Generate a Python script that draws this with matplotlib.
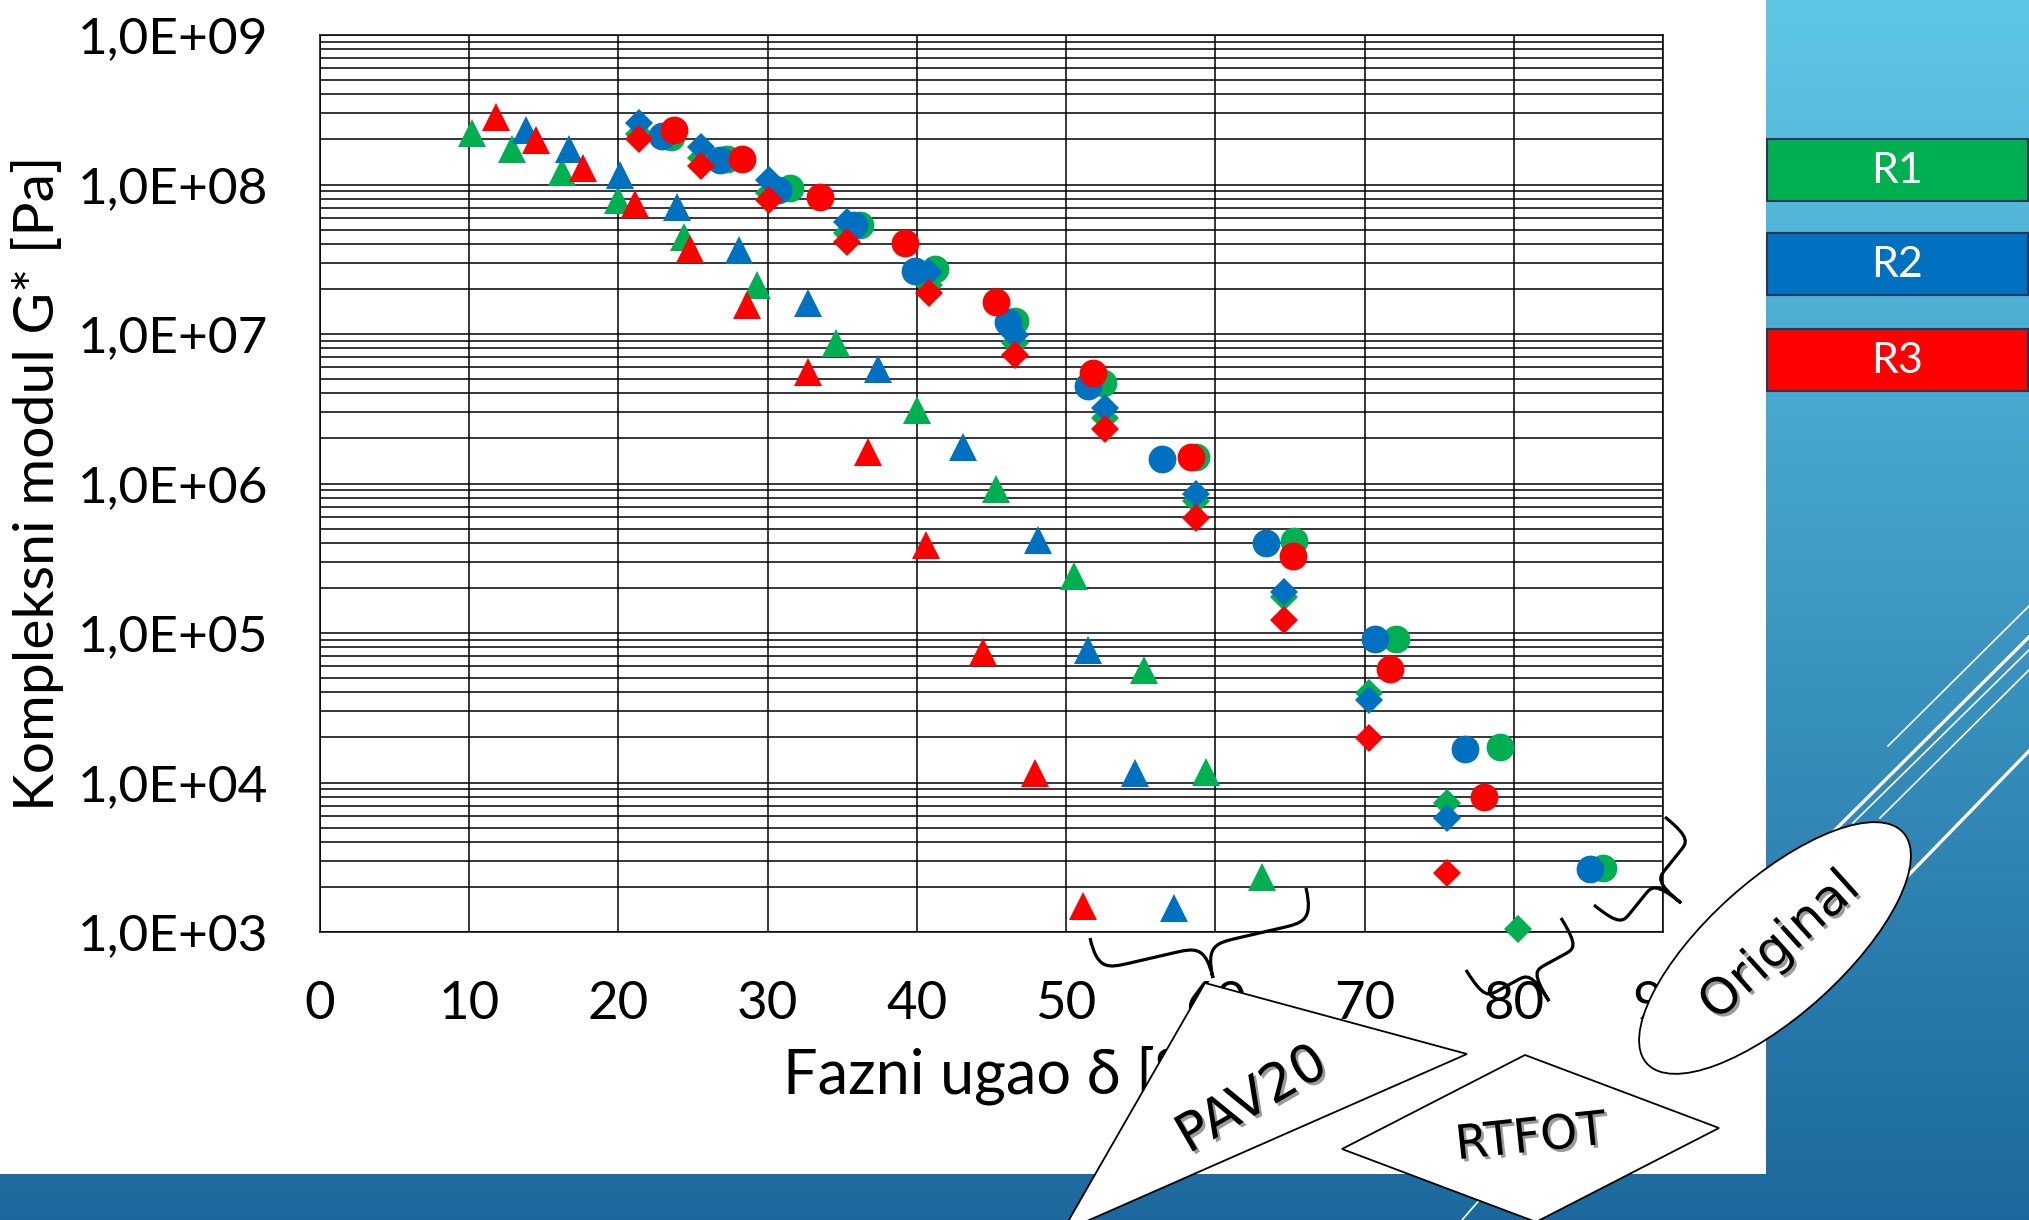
import numpy as np
import matplotlib
matplotlib.use("Agg")
from matplotlib import pyplot as plt
from matplotlib import font_manager
from matplotlib.patches import Rectangle, Ellipse, Polygon, PathPatch
from matplotlib.path import Path
from matplotlib.ticker import LogLocator, NullFormatter
import matplotlib.patheffects as pe

W, H = 2029, 1220

# ---- data: phase angle delta [deg] vs complex modulus G* [Pa] ----
# Original (circles)
orig_r1_delta = [23.5, 27.3, 31.5, 36.2, 41.2, 46.6, 52.5, 58.7, 65.3, 72.1, 79.1, 86.0]
orig_r1_g = [2.09e8, 1.48e8, 9.44e7, 5.37e7, 2.72e7, 1.23e7, 4.68e6, 1.51e6, 4.12e5, 9.18e4, 1.72e4, 2.67e3]
orig_r2_delta = [22.9, 26.8, 30.7, 35.8, 39.9, 46.1, 51.5, 56.4, 63.4, 70.7, 76.7, 85.1]
orig_r2_g = [2.11e8, 1.46e8, 9.18e7, 5.36e7, 2.64e7, 1.21e7, 4.51e6, 1.45e6, 3.98e5, 9.08e4, 1.67e4, 2.62e3]
orig_r3_delta = [23.7, 28.3, 33.5, 39.2, 45.3, 51.8, 58.4, 65.2, 71.7, 78.0]
orig_r3_g = [2.32e8, 1.48e8, 8.28e7, 4.05e7, 1.64e7, 5.51e6, 1.50e6, 3.27e5, 5.77e4, 8.04e3]

# RTFOT (diamonds)
rtfot_r1_delta = [21.4, 25.5, 30.1, 35.3, 40.8, 46.6, 52.6, 58.7, 64.6, 70.3, 75.5, 80.3]
rtfot_r1_g = [2.19e8, 1.50e8, 8.71e7, 4.72e7, 2.14e7, 8.67e6, 2.73e6, 7.59e5, 1.74e5, 3.94e4, 7.26e3, 1.05e3]
rtfot_r2_delta = [21.4, 25.5, 30.1, 35.3, 40.8, 46.6, 52.6, 58.7, 64.6, 70.3, 75.5]
rtfot_r2_g = [2.59e8, 1.77e8, 1.07e8, 5.64e7, 2.61e7, 9.84e6, 3.18e6, 8.55e5, 1.88e5, 3.56e4, 5.77e3]
rtfot_r3_delta = [21.4, 25.5, 30.1, 35.3, 40.8, 46.6, 52.6, 58.7, 64.6, 70.3, 75.5]
rtfot_r3_g = [2.00e8, 1.32e8, 7.87e7, 4.14e7, 1.89e7, 7.24e6, 2.30e6, 5.92e5, 1.22e5, 1.98e4, 2.49e3]

# PAV20 (triangles)
pav_r1_delta = [10.2, 12.9, 16.2, 20.0, 24.4, 29.3, 34.6, 40.0, 45.3, 50.5, 55.2, 59.4, 63.1]
pav_r1_g = [2.20e8, 1.72e8, 1.22e8, 7.87e7, 4.48e7, 2.13e7, 8.75e6, 3.08e6, 9.18e5, 2.39e5, 5.66e4, 1.18e4, 2.34e3]
pav_r2_delta = [13.8, 16.7, 20.1, 23.9, 28.1, 32.7, 37.4, 43.1, 48.1, 51.5, 54.6, 57.2]
pav_r2_g = [2.32e8, 1.72e8, 1.16e8, 7.11e7, 3.65e7, 1.60e7, 5.83e6, 1.75e6, 4.17e5, 7.69e4, 1.16e4, 1.44e3]
pav_r3_delta = [11.8, 14.5, 17.6, 21.1, 24.8, 28.6, 32.7, 36.7, 40.6, 44.4, 47.9, 51.1]
pav_r3_g = [2.81e8, 1.99e8, 1.28e8, 7.41e7, 3.68e7, 1.56e7, 5.60e6, 1.63e6, 3.88e5, 7.50e4, 1.16e4, 1.49e3]

REPLICATES = ["R1", "R2", "R3"]
COLORS = {"R1": "#00B050", "R2": "#0070C0", "R3": "#FF0000"}

X_TICKS = [0, 10, 20, 30, 40, 50, 60, 70, 80, 90]
Y_TICKS = [1e3, 1e4, 1e5, 1e6, 1e7, 1e8, 1e9]
Y_TICK_LABELS = ["1,0E+03", "1,0E+04", "1,0E+05", "1,0E+06", "1,0E+07", "1,0E+08", "1,0E+09"]

X_LABEL = "Fazni ugao δ [°]"
Y_LABEL = "Kompleksni modul G* [Pa]"

# ---- fonts ----
names = {f.name for f in font_manager.fontManager.ttflist}
if "Lato" in names:
    TEXT_FONT, k = ["Lato", "DejaVu Sans"], 1.0
else:
    TEXT_FONT, k = ["DejaVu Sans"], 0.82
plt.rcParams["font.family"] = ["DejaVu Sans"]

fig = plt.figure(figsize=(W / 100, H / 100), dpi=100)

# ---- slide background ----
bg = fig.add_axes([0, 0, 1, 1])
top_c = np.array([0.37, 0.78, 0.90])
bot_c = np.array([0.11, 0.41, 0.62])
t = np.linspace(0, 1, 256)[:, None]
grad = top_c + (bot_c - top_c) * t
bg.imshow(grad[:, None, :], extent=(0, W, H, 0), aspect="auto")
for (x1, y1, x2, y2, lw) in [(1888, 746, 2029, 606, 1.2), (1832, 833, 2029, 637, 2.4),
                             (1853, 823, 2029, 650, 1.2), (1880, 818, 2029, 670, 1.2),
                             (1896, 888, 2029, 751, 2.4), (1462, 1220, 1482, 1197, 1.2)]:
    bg.plot([x1, x2], [y1, y2], color="white", lw=lw)
bg.add_patch(Rectangle((0, 0), 1766, 1174, facecolor="white", edgecolor="none"))
bg.set_xlim(0, W)
bg.set_ylim(H, 0)
bg.axis("off")

# ---- main chart ----
ax_l, ax_r, ax_t, ax_b = 320, 1663, 35, 932
ax = fig.add_axes([ax_l / W, 1 - ax_b / H, (ax_r - ax_l) / W, (ax_b - ax_t) / H])
ax.set_facecolor("white")

series = {
    "R1": [(orig_r1_delta, orig_r1_g, "o"), (rtfot_r1_delta, rtfot_r1_g, "D"), (pav_r1_delta, pav_r1_g, "^")],
    "R2": [(orig_r2_delta, orig_r2_g, "o"), (rtfot_r2_delta, rtfot_r2_g, "D"), (pav_r2_delta, pav_r2_g, "^")],
    "R3": [(orig_r3_delta, orig_r3_g, "o"), (rtfot_r3_delta, rtfot_r3_g, "D"), (pav_r3_delta, pav_r3_g, "^")],
}
msize = {"o": 20, "D": 14, "^": 20}
for rep in REPLICATES:
    for xs, ys, mk in series[rep]:
        ax.plot(xs, ys, linestyle="none", marker=mk, ms=msize[mk], color=COLORS[rep],
                markeredgewidth=0, clip_on=False, zorder=3)

ax.set_yscale("log")
ax.set_xlim(0, 90)
ax.set_ylim(1e3, 1e9)
ax.set_xticks(X_TICKS)
ax.set_yticks(Y_TICKS)
ax.set_yticklabels(Y_TICK_LABELS)
ax.yaxis.set_minor_locator(LogLocator(base=10, subs=range(2, 10)))
ax.yaxis.set_minor_formatter(NullFormatter())
ax.tick_params(which="both", length=0)
ax.tick_params(axis="y", pad=37, labelsize=37 * k)
ax.tick_params(axis="x", pad=35, labelsize=38 * k)
for lab in ax.get_xticklabels() + ax.get_yticklabels():
    lab.set_fontfamily(TEXT_FONT)
ax.grid(True, which="both", axis="y", color="black", lw=1.1)
ax.grid(True, which="major", axis="x", color="black", lw=1.1)
ax.set_axisbelow(True)
for sp in ax.spines.values():
    sp.set_color("black")
    sp.set_linewidth(1.1)

# ---- overlay (pixel coordinates) ----
ov = fig.add_axes([0, 0, 1, 1])
ov.set_xlim(0, W)
ov.set_ylim(H, 0)
ov.axis("off")
ov.patch.set_alpha(0)

ov.text(38, 483, Y_LABEL, rotation=90, ha="center", va="center", fontsize=41 * k,
        family=TEXT_FONT, zorder=1)
ov.text(991, 1075, X_LABEL, ha="center", va="center", fontsize=44 * k,
        family=TEXT_FONT, zorder=1)

# legend boxes
for rep, y0 in zip(REPLICATES, [139, 233, 329]):
    ov.add_patch(Rectangle((1767, y0), 261, 62, facecolor=COLORS[rep], edgecolor="#1F3A5A",
                           lw=1.5, zorder=2))
    ov.text(1897, y0 + 32, rep, color="white", ha="center", va="center", fontsize=31 * k,
            family=TEXT_FONT, zorder=2)


def brace(p0, p1, tip):
    # curly brace from p0 to p1 with its point at tip
    u = [0.0, 0.0, 0.05, 0.15, 0.35, 0.45, 0.5, 0.5, 0.5, 0.55, 0.65, 0.85, 0.95, 1.0, 1.0]
    w = [0.0, 0.5, 0.5, 0.5, 0.5, 0.5, 0.5, 1.0, 0.5, 0.5, 0.5, 0.5, 0.5, 0.5, 0.0]
    p0, p1, tip = np.array(p0, float), np.array(p1, float), np.array(tip, float)
    ex = p1 - p0
    ey = tip - p0 - 0.5 * ex
    verts = [p0 + a * ex + b * ey for a, b in zip(u, w)]
    C = Path.CURVE4
    codes = [Path.MOVETO, C, C, C, Path.LINETO, C, C, C, C, C, C, Path.LINETO, C, C, C]
    return PathPatch(Path(verts, codes), facecolor="none", edgecolor="black", lw=2.3, zorder=3)


ov.add_patch(brace((1090, 938), (1306, 888), (1213, 978)))
ov.add_patch(brace((1466, 970), (1561, 918), (1549, 1001)))
ov.add_patch(brace((1594, 905), (1665, 817), (1681, 903)))

shadow = [pe.SimplePatchShadow(offset=(2, -2), shadow_rgbFace="0.35", alpha=0.6), pe.Normal()]

ov.add_patch(Polygon([(1205, 983), (1467, 1054), (1062, 1232)], closed=True, facecolor="white",
                     edgecolor="black", lw=1.3, zorder=4))
ov.text(1252, 1100, "PAV20", rotation=30, ha="center", va="center", fontsize=38,
        zorder=5, path_effects=shadow)

ov.add_patch(Polygon([(1525, 1055), (1719, 1128), (1536, 1222), (1342, 1149)], closed=True,
                     facecolor="white", edgecolor="black", lw=1.3, zorder=4))
ov.text(1531, 1139, "RTFOT", rotation=6, ha="center", va="center", fontsize=34,
        zorder=5, path_effects=shadow)

ov.add_patch(Ellipse((1775, 948), 345, 135, angle=-42, facecolor="white", edgecolor="black",
                     lw=1.3, zorder=4))
ov.text(1780, 946, "Original", rotation=42, ha="center", va="center", fontsize=36,
        zorder=5, path_effects=shadow)

fig.savefig("out.png", dpi=100)
